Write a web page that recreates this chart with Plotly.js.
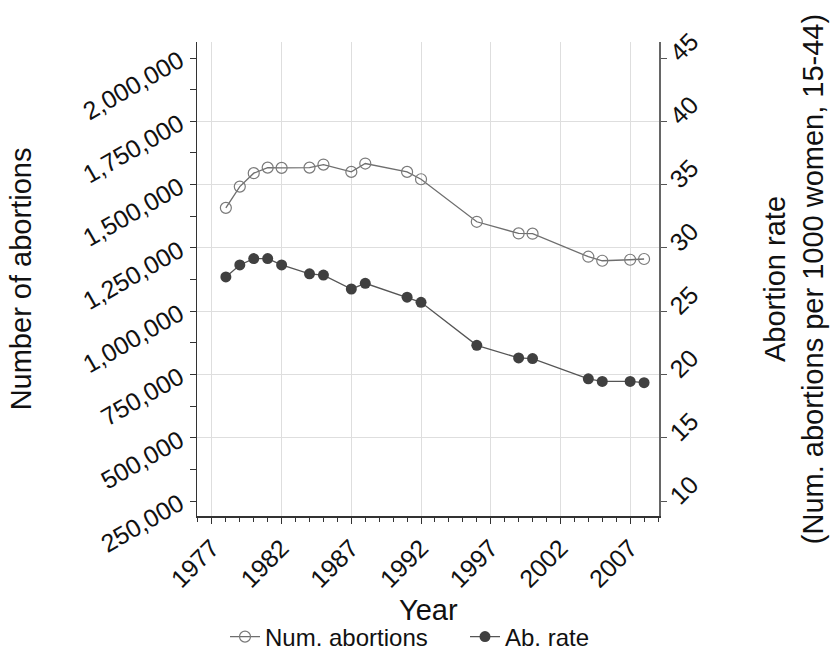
<!DOCTYPE html>
<html><head><meta charset="utf-8">
<script src="https://cdn.plot.ly/plotly-3.0.1.min.js"></script>
<style>html,body{margin:0;padding:0;background:#fff}#chart{width:832px;height:654px}</style>
</head><body><div id="chart"></div>
<script>
const years = [1978,1979,1980,1981,1982,1984,1985,1987,1988,1991,1992,1996,1999,2000,2004,2005,2007,2008];
const numAbortions = [1408000,1492000,1545000,1567000,1566000,1567000,1579000,1550000,1583000,1550000,1521000,1353000,1307000,1306000,1215000,1199000,1203000,1206000];
const abRate = [27.7,28.65,29.15,29.15,28.65,27.95,27.85,26.75,27.2,26.1,25.7,22.3,21.3,21.25,19.65,19.45,19.45,19.35];
const xTickVals = [1977,1982,1987,1992,1997,2002,2007];
const leftTickVals = [250000,500000,750000,1000000,1250000,1500000,1750000,2000000];
const rightTickVals = [10,15,20,25,30,35,40,45];
const gridVals = [500000,750000,1000000,1250000,1500000,1750000];
const seriesNames = ["Num. abortions","Ab. rate"];
const xTitle = "Year";

const FONT = "Liberation Sans, Arial, Helvetica, sans-serif";
const leftRange = [190750, 2063200];
const rightRange = [8.815, 46.264];

const traces = [
  {x: years, y: numAbortions, name: seriesNames[0], type: "scatter", mode: "lines+markers",
   yaxis: "y", legend: "legend", line: {color: "#6e6e6e", width: 1.3},
   marker: {symbol: "circle-open", size: 11, color: "#7a7a7a", line: {width: 1.2, color: "#7a7a7a"}}},
  {x: years, y: abRate, name: seriesNames[1], type: "scatter", mode: "lines+markers",
   yaxis: "y2", legend: "legend2", line: {color: "#555555", width: 1.3},
   marker: {symbol: "circle", size: 11, color: "#404040"}},
  {x: [], y: [], yaxis: "y3", showlegend: false, hoverinfo: "skip", type: "scatter", mode: "lines"}
];

const legendBase = {orientation: "h", xref: "container", yref: "container", xanchor: "left",
  y: 1 - 637/654, yanchor: "middle", font: {size: 24, family: FONT, color: "#111"},
  itemwidth: 30, bgcolor: "rgba(0,0,0,0)"};

const layout = {
  width: 832, height: 654,
  margin: {l: 197, r: 173, t: 42, b: 138, autoexpand: false},
  paper_bgcolor: "#ffffff", plot_bgcolor: "#ffffff",
  font: {family: FONT, color: "#111111"},
  showlegend: true,
  legend: Object.assign({}, legendBase, {x: 225/832}),
  legend2: Object.assign({}, legendBase, {x: 465/832}),
  xaxis: {range: [1975.93, 2009.07], tickvals: xTickVals, ticktext: xTickVals.map(String),
          tickangle: -45, tickfont: {size: 25}, ticks: "outside", ticklen: 6, tickcolor: "#333",
          showline: true, linecolor: "#333", linewidth: 1.5, showgrid: true, gridcolor: "#dedede", gridwidth: 1,
          zeroline: false,
          minor: {dtick: 1, tick0: 1977, ticks: "outside", ticklen: 4, tickcolor: "#333", showgrid: false},
          title: {text: ""}},
  yaxis: {range: leftRange, tickvals: leftTickVals, tickformat: ",d", tickangle: -30,
          tickfont: {size: 25}, ticks: "outside", ticklen: 6, tickcolor: "#333", ticklabelstandoff: 5,
          showline: true, linecolor: "#333", linewidth: 1.5, showgrid: false, zeroline: false,
          minor: {dtick: 125000, tick0: 0, ticks: "outside", ticklen: 6, tickcolor: "#333", showgrid: false},
          title: {text: "Number of abortions", font: {size: 29}, standoff: 38}},
  yaxis2: {range: rightRange, tickvals: rightTickVals, overlaying: "y", side: "right", tickangle: -45,
           tickfont: {size: 25}, ticks: "outside", ticklen: 6, tickcolor: "#555",
           showline: true, linecolor: "#666", linewidth: 1.5, showgrid: false, zeroline: false,
           title: {text: "Abortion rate<br>(Num. abortions per 1000 women, 15-44)", font: {size: 29}, standoff: 62}},
  yaxis3: {range: leftRange, tickvals: gridVals, overlaying: "y", showticklabels: false, ticks: "",
           showgrid: true, gridcolor: "#dedede", gridwidth: 1, showline: false, zeroline: false},
  annotations: [{text: xTitle, xref: "paper", yref: "paper", x: 0.5, y: (516 - 610) / 474,
                 xanchor: "center", yanchor: "middle", showarrow: false,
                 font: {size: 29, family: FONT, color: "#111111"}}]
};

Plotly.newPlot("chart", traces, layout, {staticPlot: true, displayModeBar: false});
</script>
</body></html>
